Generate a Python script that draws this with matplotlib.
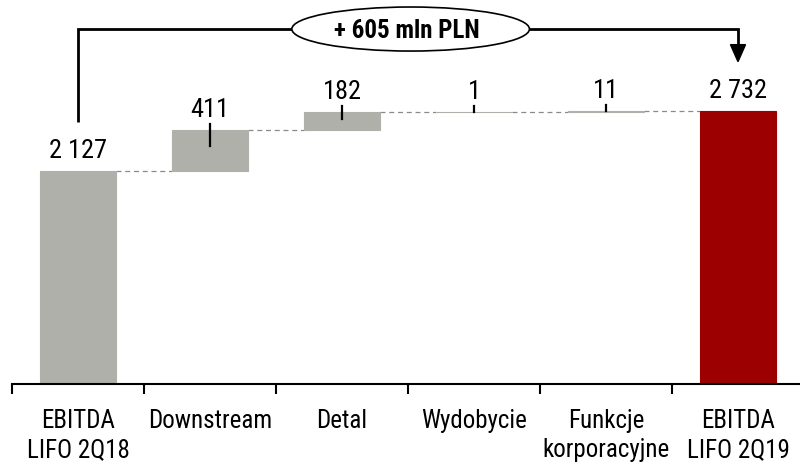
import numpy as np
import matplotlib.pyplot as plt
from matplotlib.patches import Ellipse, Polygon

plt.close('all')
plt.rcParams['font.family'] = ['Roboto Condensed', 'Liberation Sans', 'DejaVu Sans']

# Data
categories = ['EBITDA\nLIFO 2Q18', 'Downstream', 'Detal', 'Wydobycie',
              'Funkcje\nkorporacyjne', 'EBITDA\nLIFO 2Q19']
start_value = 2127
deltas = [411, 182, 1, 11]
end_value = 2732
value_labels = ['2 127', '411', '182', '1', '11', '2 732']
bracket_text = '+ 605 mln PLN'

gray = '#b0b0aa'
red = '#9c0000'
width = 0.57

# Waterfall geometry
heights = [start_value] + deltas + [end_value]
bottoms = [0] + list(start_value + np.cumsum([0] + deltas[:-1])) + [0]
tops = [b + h for b, h in zip(bottoms, heights)]
colors = [gray] * (len(heights) - 1) + [red]
x = np.arange(len(categories))

fig = plt.figure(figsize=(8, 4.63), dpi=100)
ax = fig.add_axes([12 / 800, 79 / 463, 792 / 800, 384 / 463])

ax.bar(x, heights, width, bottom=bottoms, color=colors,
       edgecolor=colors, linewidth=0.8, zorder=2)

# dashed connectors
for i in range(len(x) - 1):
    ax.plot([x[i] + width / 2, x[i + 1] - width / 2], [tops[i], tops[i]],
            color='#8a8a8a', linestyle=(0, (4, 3)), linewidth=0.9, zorder=1)

# value labels and small markers
for i in range(len(x)):
    ax.text(x[i], tops[i] + 130, value_labels[i], ha='center', va='baseline',
            fontsize=19)
    if 0 < i < len(x) - 1:
        ax.plot([x[i], x[i]], [tops[i] + 57, tops[i] - 0.4 * heights[i]],
                color='black', linewidth=1.6, zorder=3)

# bracket with total change
level = end_value + 814
gap = 488
ax.plot([x[0], x[0], x[-1], x[-1]],
        [start_value + gap, level, level, end_value + gap + 170],
        color='black', linewidth=2, solid_capstyle='butt',
        solid_joinstyle='miter', clip_on=False, zorder=4)
ax.add_patch(Polygon([[x[-1] - 0.057, end_value + gap + 170],
                      [x[-1] + 0.057, end_value + gap + 170],
                      [x[-1], end_value + gap]],
                     closed=True, facecolor='black', edgecolor='black',
                     clip_on=False, zorder=4))
ax.add_patch(Ellipse((2.52, level), 1.80, 440, facecolor='white',
                     edgecolor='black', linewidth=1.2, clip_on=False, zorder=5))
ax.text(2.49, level - 20, bracket_text, ha='center', va='center',
        fontsize=18, fontweight='bold', zorder=6)

ax.set_xlim(-0.5, 5.5)
ax.set_ylim(0, 3836)
ax.set_yticks([])
for s in ['left', 'right', 'top']:
    ax.spines[s].set_visible(False)
ax.spines['bottom'].set_linewidth(1.5)

ax.set_xticks(np.arange(-0.5, 6, 1))
ax.set_xticklabels([])
ax.tick_params(axis='x', length=7, width=1.5, direction='out')
ax.set_xticks(x, minor=True)
ax.set_xticklabels(categories, minor=True, fontsize=18, linespacing=1.25)
ax.tick_params(axis='x', which='minor', length=0, pad=18)

fig.savefig('out.png', dpi=100)
